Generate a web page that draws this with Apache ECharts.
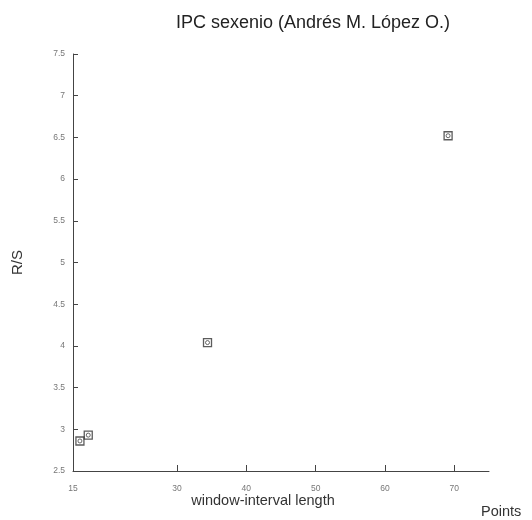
<!DOCTYPE html>
<html><head><meta charset="utf-8">
<script src="https://cdn.jsdelivr.net/npm/echarts@6/dist/echarts.min.js"></script>
<style>html,body{margin:0;padding:0;background:#fff}#c{width:532px;height:520px}</style>
</head><body><div id="c"></div>
<script>
const windowLength = [16.0, 17.2, 34.4, 69.1];
const rsValues = [2.86, 2.93, 4.04, 6.52];
const xTicks = [15, 30, 40, 50, 60, 70];
const yTicks = [2.5, 3, 3.5, 4, 4.5, 5, 5.5, 6, 6.5, 7, 7.5];

const pts = windowLength.map((x, i) => [x, rsValues[i]]);
const chart = echarts.init(document.getElementById('c'), null, {renderer: 'canvas'});
const labelStyle = {color: '#777', fontSize: 8.5, fontFamily: 'Liberation Sans'};
chart.setOption({
  animation: false,
  title: {text: 'IPC sexenio (Andrés M. López O.)', left: 308, top: 9, textAlign: 'center',
    textStyle: {fontFamily: 'Liberation Sans', fontSize: 18, fontWeight: 'normal', color: '#222'}},
  grid: {left: 73, right: 43, top: 54, bottom: 49, outerBoundsMode: 'none', containLabel: false},
  xAxis: {type: 'value', min: 15, max: 75,
    axisLine: {lineStyle: {color: '#444', width: 1}},
    axisTick: {show: true, inside: true, length: 6, customValues: xTicks.slice(1), lineStyle: {color: '#444'}},
    axisLabel: {customValues: xTicks, margin: 13, ...labelStyle},
    splitLine: {show: false}},
  yAxis: {type: 'value', min: 2.5, max: 7.5,
    name: 'R/S', nameLocation: 'middle', nameGap: 48, nameRotate: 90,
    nameTextStyle: {fontFamily: 'Liberation Sans', fontSize: 15, color: '#333'},
    axisLine: {show: true, lineStyle: {color: '#444', width: 1}},
    axisTick: {show: true, inside: true, length: 5, customValues: yTicks, lineStyle: {color: '#444'}},
    axisLabel: {customValues: yTicks, margin: 8, ...labelStyle},
    splitLine: {show: false}},
  graphic: [
    {type: 'text', x: 263, y: 501,
      style: {text: 'window-interval length', font: '14.5px "Liberation Sans"', fill: '#333', align: 'center', verticalAlign: 'middle'}},
    {type: 'text', x: 481, y: 512,
      style: {text: 'Points', font: '14.5px "Liberation Sans"', fill: '#333', align: 'left', verticalAlign: 'middle'}}],
  series: [
    {type: 'scatter', data: pts, symbol: 'rect', symbolSize: 8,
      itemStyle: {color: 'rgba(255,255,255,0)', borderColor: '#333', borderWidth: 1.3}},
    {type: 'scatter', data: pts, symbol: 'circle', symbolSize: 4,
      itemStyle: {color: 'rgba(255,255,255,0)', borderColor: '#444', borderWidth: 1}}
  ]
});
</script></body></html>
